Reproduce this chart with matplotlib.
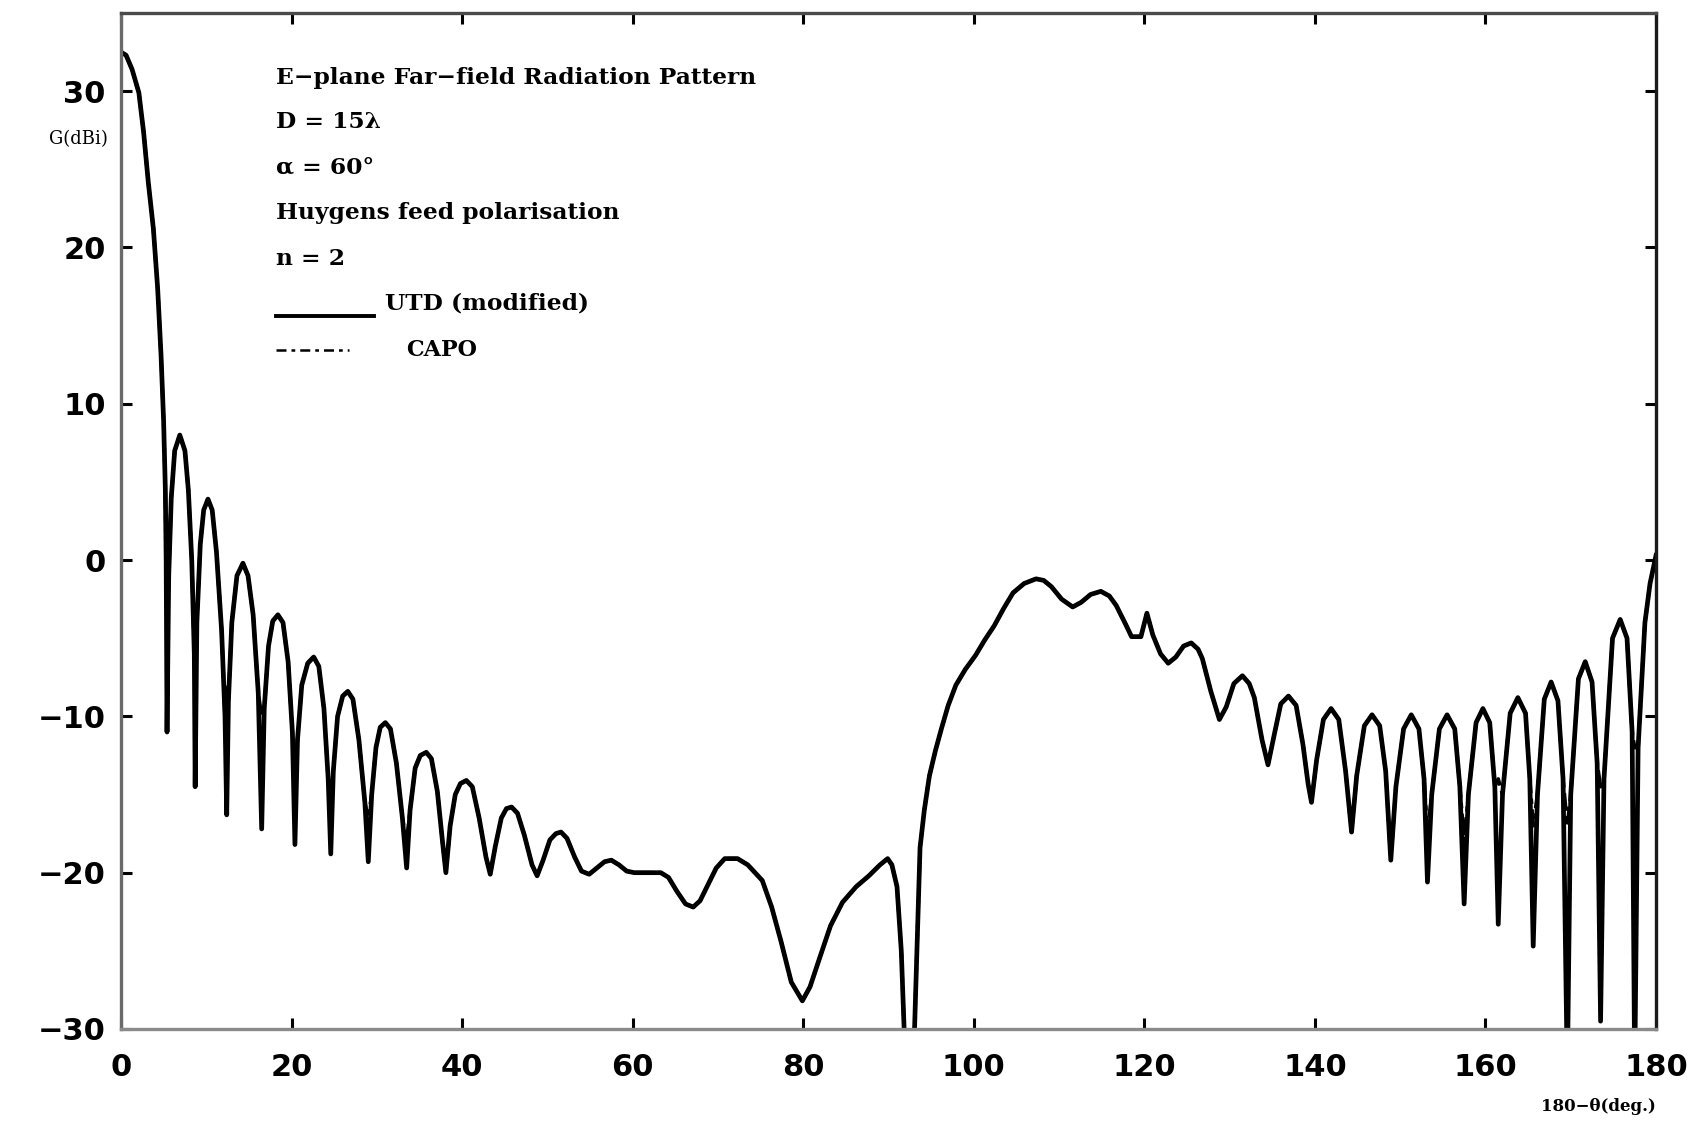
import numpy as np
import matplotlib
matplotlib.use("Agg")
import matplotlib.pyplot as plt

# angle 180-theta (deg) and gain (dBi), UTD (modified) curve
utd_x = [0.0, 0.6, 1.3, 2.1, 2.65, 3.2, 3.8, 4.3, 4.7, 5.0, 5.2, 5.3, 5.4,
         5.6, 5.9, 6.3, 6.9, 7.5, 7.9, 8.3, 8.6, 8.7,
         8.9, 9.3, 9.7, 10.2, 10.7, 11.2, 11.8, 12.2, 12.4,
         12.6, 13.0, 13.6, 14.3, 14.9, 15.5, 16.1, 16.5,
         16.8, 17.3, 17.8, 18.4, 19.0, 19.6, 20.1, 20.4,
         20.7, 21.2, 21.9, 22.6, 23.2, 23.8, 24.3, 24.6,
         24.9, 25.4, 26.0, 26.6, 27.2, 27.9, 28.6, 29.0,
         29.4, 29.9, 30.4, 31.0, 31.6, 32.3, 33.0, 33.5,
         33.9, 34.5, 35.1, 35.8, 36.4, 37.1, 37.7, 38.1,
         38.6, 39.2, 39.8, 40.5, 41.2, 42.0, 42.8, 43.3,
         43.9, 44.6, 45.2, 45.8, 46.5, 47.3, 48.2, 48.8,
         49.5, 50.3, 51.0, 51.6, 52.3, 53.2, 54.0, 54.9,
         55.8, 56.7, 57.5, 58.4, 59.3, 60.2, 61.5, 63.3,
         64.2, 65.2, 66.2, 67.1, 67.9, 68.8, 69.8, 70.8, 72.3, 73.5,
         75.2, 76.3, 77.4, 78.6, 79.9, 80.8, 81.9, 83.2, 84.6, 86.2,
         87.7, 89.0, 89.9, 90.4, 91.0, 91.5, 91.9, 92.5, 93.0, 93.4,
         93.7, 94.2, 94.8, 95.5, 96.2, 97.0, 97.9, 99.0, 100.2, 101.3,
         102.4, 103.5, 104.6, 105.9, 107.3, 108.2, 109.1, 110.3, 111.6, 112.6,
         113.7, 114.9, 115.9, 116.7, 117.8, 118.5, 119.6, 120.3, 121.0, 121.9,
         122.8, 123.7, 124.6, 125.5, 126.3, 126.8, 127.8, 128.8,
         129.6, 130.5, 131.5, 132.3, 132.9, 133.8, 134.5,
         135.3, 136.0, 136.9, 137.8, 138.6, 139.2, 139.6,
         140.2, 141.0, 141.9, 142.8, 143.6, 144.3,
         144.9, 145.8, 146.7, 147.6, 148.3, 148.9,
         149.5, 150.4, 151.3, 152.2, 152.8, 153.2,
         153.7, 154.6, 155.5, 156.4, 157.0, 157.5,
         158.0, 158.9, 159.7, 160.5, 161.1, 161.5,
         162.0, 162.9, 163.8, 164.7, 165.2, 165.6,
         166.1, 166.9, 167.7, 168.5, 169.1, 169.6,
         170.0, 170.9, 171.7, 172.5, 173.1, 173.5,
         173.9, 174.9, 175.8, 176.6, 177.2, 177.5,
         177.9, 178.7, 179.3, 180.0]
utd_g = [32.5, 32.3, 31.4, 29.9, 27.4, 24.2, 21.2, 17.4, 13.1, 8.9, 4.6, 0.0, -11.0,
         -1.0, 4.0, 7.0, 8.0, 7.0, 4.5, 0.0, -6.0, -14.5,
         -4.0, 1.0, 3.2, 3.9, 3.2, 0.5, -4.5, -10.0, -16.3,
         -9.0, -4.0, -1.0, -0.2, -1.0, -3.5, -8.5, -17.2,
         -9.5, -5.5, -3.9, -3.5, -4.0, -6.5, -11.0, -18.2,
         -11.5, -8.0, -6.6, -6.2, -6.8, -9.5, -14.0, -18.8,
         -13.5, -10.0, -8.7, -8.4, -8.9, -11.5, -15.5, -19.3,
         -15.0, -12.0, -10.7, -10.4, -10.8, -13.0, -16.5, -19.7,
         -16.0, -13.3, -12.5, -12.3, -12.7, -14.8, -18.0, -20.0,
         -17.0, -15.0, -14.3, -14.1, -14.5, -16.5, -19.0, -20.1,
         -18.3, -16.5, -15.9, -15.8, -16.2, -17.6, -19.5, -20.2,
         -19.2, -17.9, -17.5, -17.4, -17.8, -19.0, -19.9, -20.1,
         -19.7, -19.3, -19.2, -19.5, -19.9, -20.0, -20.0, -20.0,
         -20.3, -21.2, -22.0, -22.2, -21.8, -20.8, -19.7, -19.1, -19.1, -19.5,
         -20.5, -22.2, -24.4, -27.0, -28.2, -27.3, -25.5, -23.4, -21.9, -20.9,
         -20.2, -19.5, -19.1, -19.5, -20.9, -25.0, -31.0, -40.0, -31.0, -24.0,
         -18.4, -16.0, -13.8, -12.2, -10.8, -9.3, -8.0, -7.0, -6.1, -5.1,
         -4.2, -3.1, -2.1, -1.5, -1.2, -1.3, -1.7, -2.5, -3.0, -2.7,
         -2.2, -2.0, -2.3, -2.9, -4.1, -4.9, -4.9, -3.4, -4.8, -6.0,
         -6.6, -6.2, -5.5, -5.3, -5.7, -6.3, -8.4, -10.2,
         -9.4, -7.9, -7.4, -7.9, -8.8, -11.5, -13.1,
         -11.0, -9.2, -8.7, -9.3, -11.8, -14.3, -15.5,
         -12.8, -10.2, -9.5, -10.2, -13.5, -17.4,
         -13.8, -10.6, -9.9, -10.6, -13.5, -19.2,
         -14.5, -10.8, -9.9, -10.8, -14.0, -20.6,
         -15.0, -10.8, -9.9, -10.8, -14.5, -22.0,
         -15.0, -10.4, -9.5, -10.4, -14.5, -23.3,
         -15.0, -9.8, -8.8, -9.8, -14.0, -24.7,
         -15.0, -8.9, -7.8, -9.0, -14.0, -33.0,
         -15.0, -7.6, -6.5, -7.8, -13.0, -29.5,
         -14.0, -5.0, -3.8, -5.0, -11.0, -33.0,
         -12.0, -4.0, -1.5, 0.3]

# CAPO follows UTD except at these nulls, where it is shallower
capo_null_x = [5.4, 8.7, 12.4, 16.5, 20.4, 24.6, 29.0, 33.5,
               153.2, 157.5, 161.5, 165.6, 169.6, 173.5, 177.5]
capo_null_g = [-3.5, -6.5, -8.0, -10.0, -13.5, -15.0, -16.5, -18.0,
               -17.5, -18.0, -14.0, -17.0, -17.0, -14.5, -12.0]

legend_lines = ["E\u2212plane Far\u2212field Radiation Pattern", "D = 15\u03bb",
                "\u03b1 = 60\u00b0", "Huygens feed polarisation", "n = 2"]

capo_map = dict(zip(capo_null_x, capo_null_g))
capo_g = [capo_map.get(x, g) for x, g in zip(utd_x, utd_g)]

fig = plt.figure(figsize=(16.99, 11.22), dpi=100)
ax = fig.add_axes([0.0712, 0.0829, 0.9035, 0.9055])

ax.plot(utd_x, capo_g, color="black", lw=2.6, linestyle=(0, (5, 1.5, 1.5, 1.5)))
ax.plot(utd_x, utd_g, color="black", lw=3.4, solid_joinstyle="round")

ax.set_xlim(0, 180)
ax.set_ylim(-30, 35)
ax.set_xticks(np.arange(0, 181, 20))
ax.set_yticks(np.arange(-30, 31, 10))
ax.tick_params(direction="in", length=8, width=2.2, top=True, right=True,
               labelsize=22)
ax.tick_params(axis="x", pad=17)
ax.tick_params(axis="y", pad=11)
for lab in ax.get_xticklabels() + ax.get_yticklabels():
    lab.set_fontweight("bold")

ax.spines["left"].set_color("#6a6a6a")
ax.spines["bottom"].set_color("#8a8a8a")
ax.spines["top"].set_color("#4a4a4a")
ax.spines["right"].set_color("#1a1a1a")
for s in ax.spines.values():
    s.set_linewidth(2.4)

serif = ["DejaVu Serif"]
ys = [30.84, 28.03, 25.09, 22.21, 19.27]
for t, y in zip(legend_lines, ys):
    ax.text(18.2, y, t, family=serif, fontweight="bold", fontsize=16.8,
            va="center", ha="left")
ax.plot([18.2, 29.7], [15.6, 15.6], color="black", lw=2.8)
ax.text(31.0, 16.39, "UTD (modified)", family=serif, fontweight="bold",
        fontsize=16.8, va="center", ha="left")
ax.plot([18.2, 26.7], [13.45, 13.45], color="black", lw=1.8,
        linestyle=(0, (4, 2, 1.5, 2)))
ax.text(33.4, 13.45, "CAPO", family=serif, fontweight="bold",
        fontsize=16, va="center", ha="left")

fig.text(0.0636, 0.876, "G(dBi)", family=serif, fontsize=13,
         ha="right", va="center")
fig.text(0.9747, 0.0134, "180\u2212\u03b8(deg.)", family=serif, fontsize=12,
         fontweight="bold", ha="right", va="center")

fig.savefig("out.png", dpi=100)
